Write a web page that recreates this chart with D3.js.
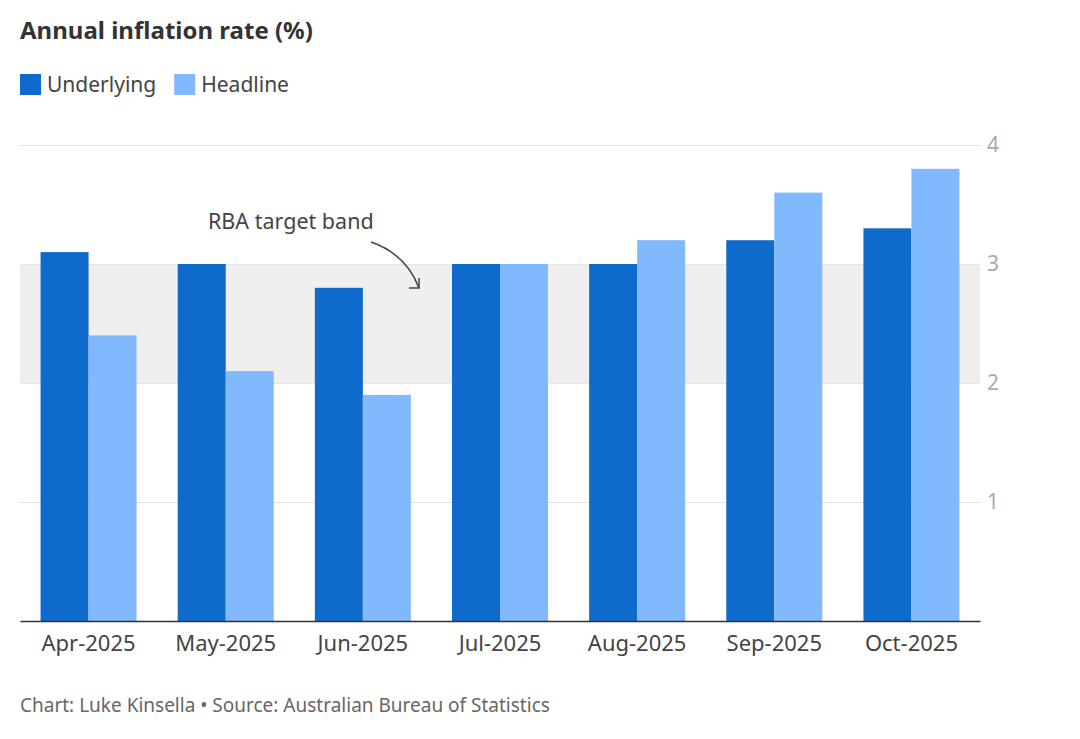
<!DOCTYPE html>
<html><head><meta charset="utf-8">
<script src="https://cdn.jsdelivr.net/npm/d3@7"></script>
<style>
body{margin:0;background:#fff;}
text{font-family:"Noto Sans",sans-serif;}
</style></head>
<body>
<svg id="c" width="1080" height="739"></svg>
<script>
const categories = ["Apr-2025","May-2025","Jun-2025","Jul-2025","Aug-2025","Sep-2025","Oct-2025"];
const seriesNames = ["Underlying","Headline"];
const underlying = [3.1, 3.0, 2.8, 3.0, 3.0, 3.2, 3.3];
const headline = [2.4, 2.1, 1.9, 3.0, 3.2, 3.6, 3.8];
const yTicks = [1,2,3,4];
const band = [2,3];
const colors = ["#0f6bcb","#80b9fe"];

(function(){
const FF = "'Noto Sans',sans-serif";
const svg = d3.select("#c");
const mL = 20, mR = 980, mT = 145, mB = 621;
const x = d3.scaleBand().domain(categories).range([mL,mR]).paddingInner(0.3).paddingOuter(0.15);
const xs = d3.scaleBand().domain(seriesNames).range([0,x.bandwidth()]);
const y = d3.scaleLinear().domain([0,4]).range([mB,mT]);

// title
svg.append("text").attr("x",20).attr("y",39).attr("font-size",24).attr("font-weight",700).attr("fill","#333").text("Annual inflation rate (%)");
// legend
let lx = 20;
seriesNames.forEach((s,i)=>{
  svg.append("rect").attr("x",lx).attr("y",74).attr("width",21).attr("height",21).attr("fill",colors[i]);
  const t = svg.append("text").attr("x",lx+27).attr("y",92).attr("font-size",21).attr("fill","#444").text(s);
  lx += 27 + t.node().getComputedTextLength() + 18;
});

// band
svg.append("rect").attr("x",mL).attr("width",mR-mL).attr("y",y(band[1])).attr("height",y(band[0])-y(band[1])).attr("fill","#efefef");

// gridlines + labels
const ya = svg.append("g").attr("transform",`translate(${mR},0)`).call(d3.axisRight(y).tickValues(yTicks).tickSize(-(mR-mL)).tickPadding(7).tickFormat(d3.format("d")));
ya.select(".domain").remove();
ya.selectAll("line").attr("stroke","#e3e3e3");
ya.selectAll("text").attr("font-size",21).attr("fill","#aaa").attr("font-family",FF);

// bars
const data = categories.map((c,i)=>({c, vals:[underlying[i],headline[i]]}));
const g = svg.append("g");
data.forEach(d=>{
  d.vals.forEach((v,j)=>{
    g.append("rect").attr("x",x(d.c)+xs(seriesNames[j])).attr("width",xs.bandwidth())
     .attr("y",y(v)).attr("height",y(0)-y(v)).attr("fill",colors[j]);
  });
});

// x axis
const xa = svg.append("g").attr("transform",`translate(0,${mB})`).call(d3.axisBottom(x).tickSize(0).tickPadding(14));
xa.select(".domain").attr("stroke","#333").attr("stroke-width",1.5);
xa.selectAll("text").attr("font-size",22).attr("fill","#444").attr("font-family",FF);

// annotation
svg.append("text").attr("x",208).attr("y",229).attr("font-size",21.5).attr("fill","#444").text("RBA target band");
svg.append("path").attr("d","M371,242 Q406,254 419,288").attr("fill","none").attr("stroke","#444").attr("stroke-width",1.5);
svg.append("path").attr("d","M409,288 L419,288 L419,278").attr("fill","none").attr("stroke","#444").attr("stroke-width",1.5);

// footer
svg.append("text").attr("x",20).attr("y",712).attr("font-size",19).attr("fill","#666").text("Chart: Luke Kinsella \u2022 Source: Australian Bureau of Statistics");
})();
</script>
</body></html>
